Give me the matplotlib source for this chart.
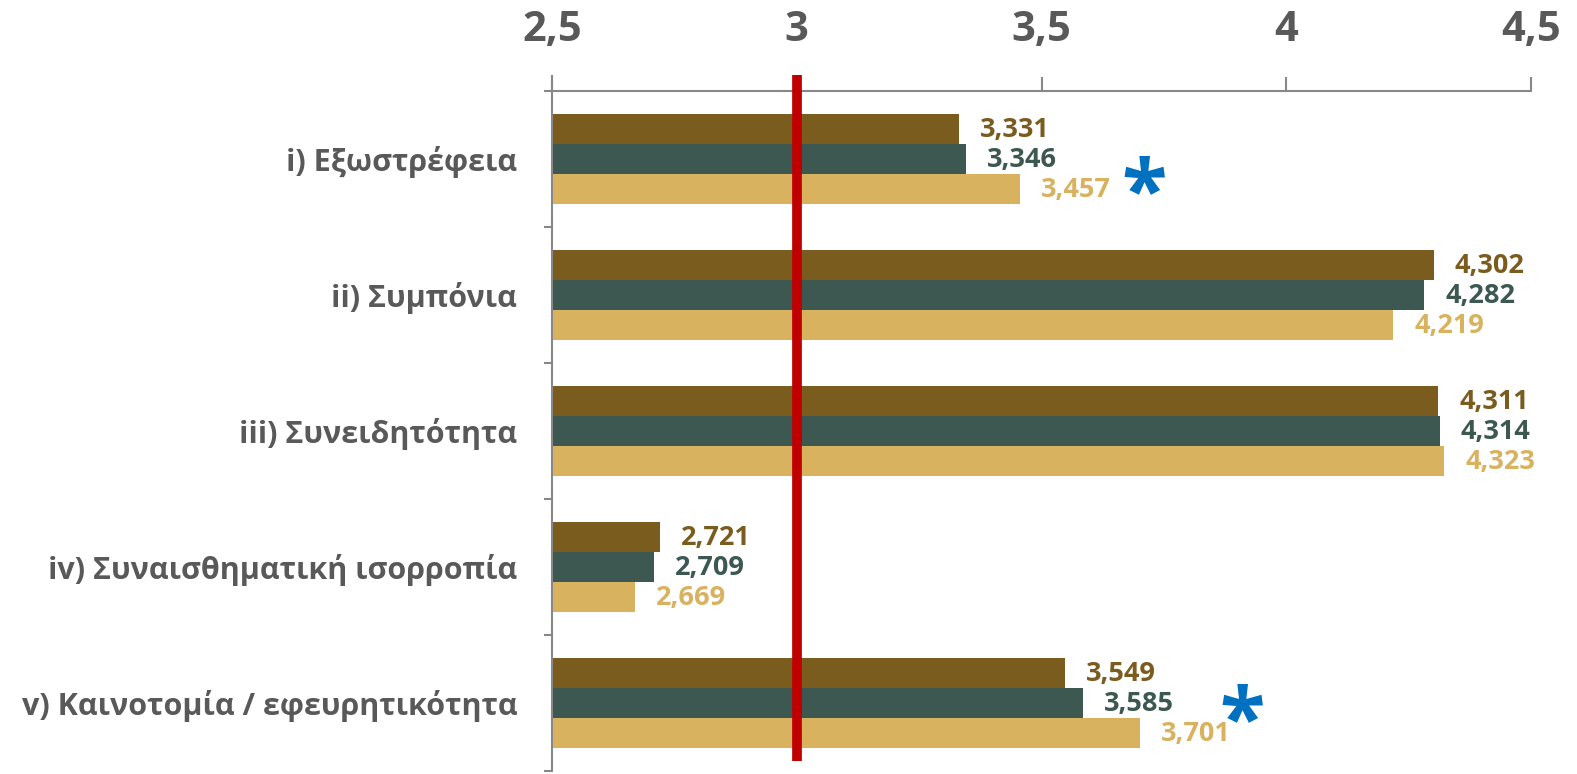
import numpy as np
import matplotlib.pyplot as plt
from matplotlib.ticker import FixedLocator

plt.rcParams['font.family'] = ['Open Sans', 'DejaVu Sans']

categories = ["i) Εξωστρέφεια", "ii) Συμπόνια", "iii) Συνειδητότητα",
              "iv) Συναισθηματική ισορροπία", "v) Καινοτομία / εφευρητικότητα"]
series1 = [3.331, 4.302, 4.311, 2.721, 3.549]
series2 = [3.346, 4.282, 4.314, 2.709, 3.585]
series3 = [3.457, 4.219, 4.323, 2.669, 3.701]
xticks = [2.5, 3, 3.5, 4, 4.5]
xtick_labels = ["2,5", "3", "3,5", "4", "4,5"]
# asterisks marking rows i and v
star_x = [3.71, 3.91]
star_y = [0.28, 4.16]

colors = ["#7B5C1F", "#3C5850", "#D8B25E"]
gray = "#595959"

fig = plt.figure(figsize=(15.77, 7.74), dpi=100)
ax = fig.add_axes([552 / 1577, 3 / 774, 979 / 1577, 680 / 774])

y = np.arange(len(categories))
h = 0.22
for k, (vals, c) in enumerate(zip([series1, series2, series3], colors)):
    pos = y + (k - 1) * h
    ax.barh(pos, np.array(vals) - 2.5, left=2.5, height=h, color=c, zorder=2)
    for p, v in zip(pos, vals):
        ax.annotate(f"{v:.3f}".replace(".", ","), (v, p), xytext=(15, -1),
                    textcoords="offset points", va="center", ha="left",
                    fontsize=19.5, fontweight="bold", color=c)

for sx, sy in zip(star_x, star_y):
    ax.text(sx, sy, "*", fontsize=60, fontweight="bold", color="#0070C0",
            ha="center", va="center")

ax.set_xlim(2.5, 4.5)
ax.set_ylim(4.5, -0.5)

ax.plot([3, 3], [-0.62, 4.43], color="#C00000", lw=7, clip_on=False, zorder=3,
        solid_capstyle="butt")

ax.xaxis.tick_top()
ax.set_xticks(xticks)
ax.set_xticklabels(xtick_labels, fontsize=30, fontweight="bold", color=gray)
ax.tick_params(axis="x", which="major", length=10, width=1.5, color="#888888", pad=19)

ax.set_yticks(y)
ax.set_yticklabels(categories, fontsize=22, fontweight="bold", color=gray)
ax.yaxis.set_minor_locator(FixedLocator(np.arange(-0.5, 5, 1)))
ax.tick_params(axis="y", which="major", length=0, pad=25)
ax.tick_params(axis="y", which="minor", length=6, width=1.5, color="#888888")

for s in ["right", "bottom"]:
    ax.spines[s].set_visible(False)
for s in ["top", "left"]:
    ax.spines[s].set_color("#888888")
    ax.spines[s].set_linewidth(1.5)
ax.spines["left"].set_bounds(4.5, -0.61)

fig.savefig("out.png", dpi=100)
